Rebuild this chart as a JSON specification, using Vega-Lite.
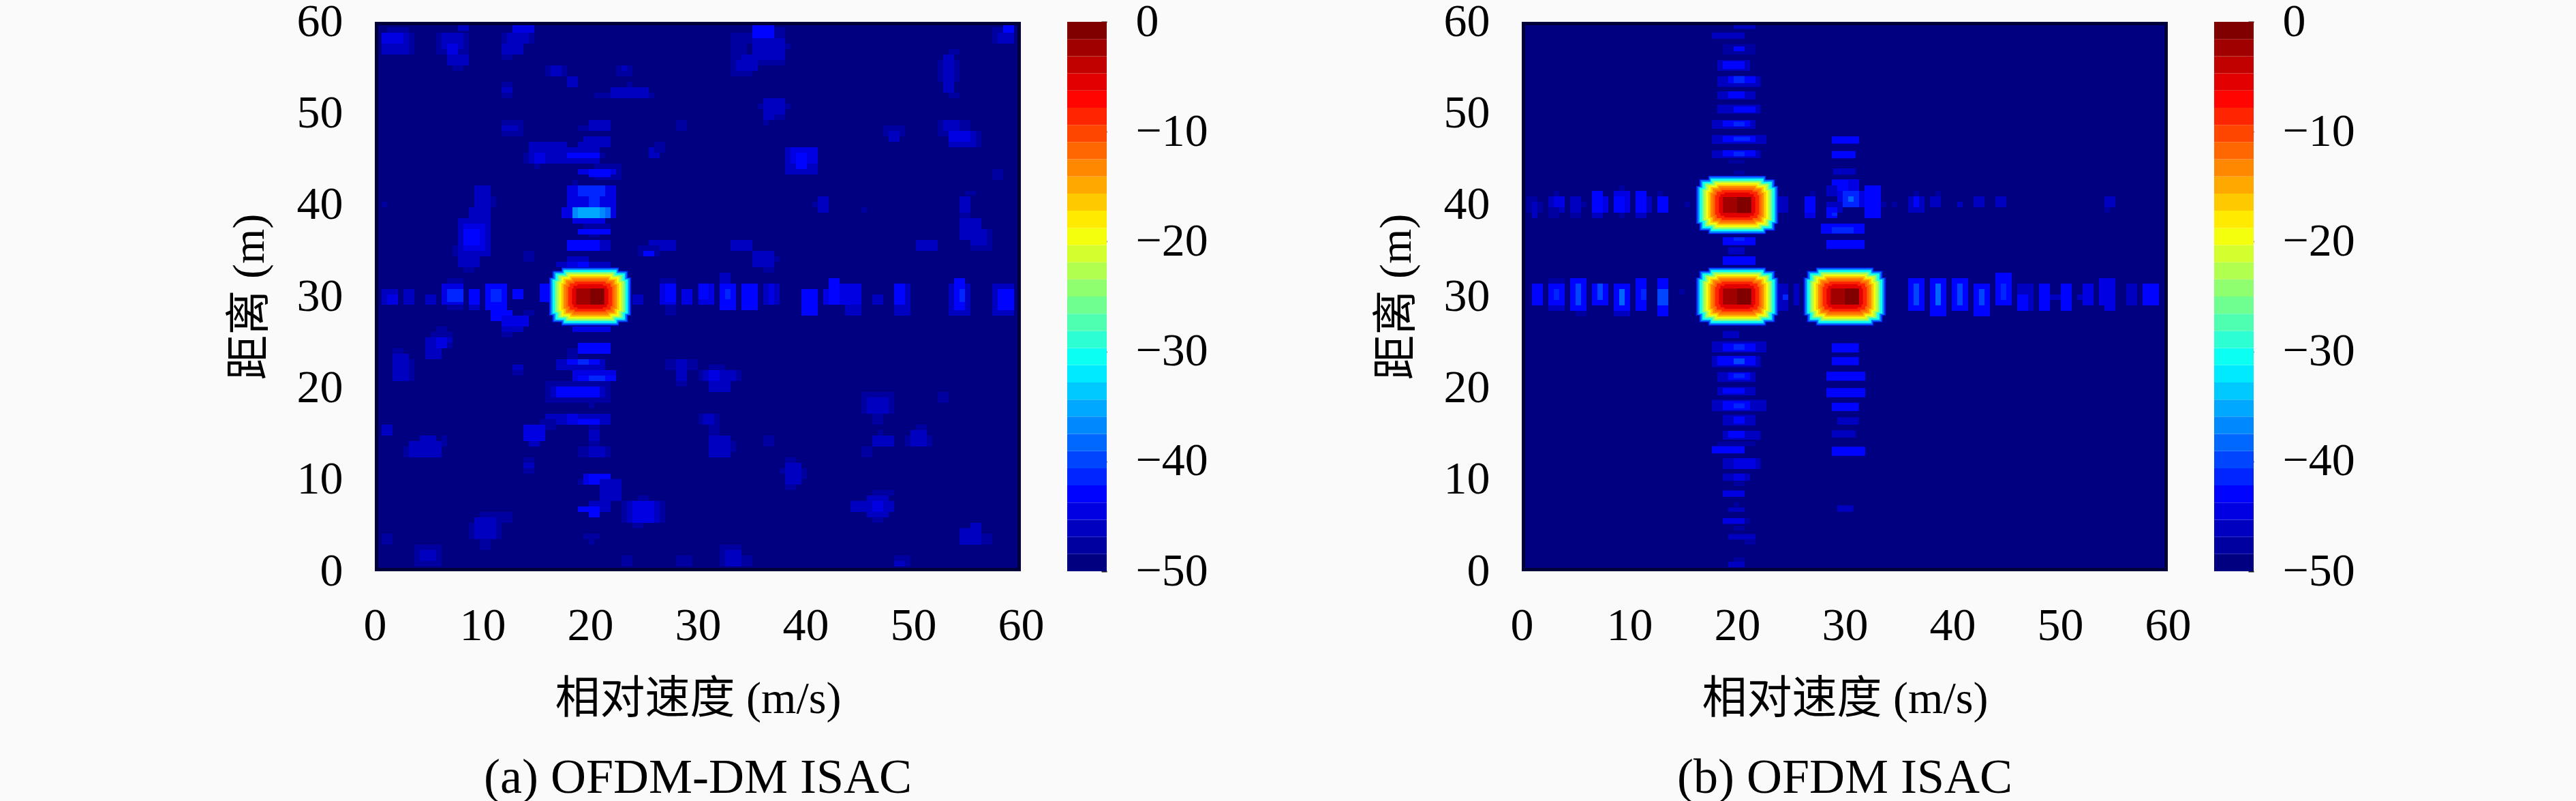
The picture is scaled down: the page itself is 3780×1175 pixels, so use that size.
{
"$schema":"https://vega.github.io/schema/vega-lite/v6.json",
"background":"#fafafa",
"autosize":{"type":"none"},
"padding":{"left":550,"top":32,"right":0,"bottom":0},
"params":[{"name":"width","value":3230},{"name":"height","value":1143}],
"bounds":"flush",
"config":{
"view":{"stroke":null},
"font":"Liberation Serif, Noto Sans CJK SC",
"axis":{"grid":false,"domain":false,"ticks":false,"labelFont":"Liberation Serif","labelFontSize":68,"labelColor":"#000000","titleFont":"Liberation Serif, Noto Sans CJK SC","titleFontSize":66,"titleFontWeight":"normal","titleColor":"#000000","labelOverlap":false,"labelFlush":false},
"title":{"font":"Liberation Serif","fontSize":72,"fontWeight":"normal","color":"#000000"}
},
"vconcat":[{"bounds":"flush","spacing":1683,"hconcat":[
{"bounds":"flush","spacing":68,"hconcat":[
{"width":948,"height":806,
"title":{"text":"(a) OFDM-DM ISAC","orient":"bottom","anchor":"middle","offset":48},
"layer":[
{"data":{"values":[
{"x0":0,"x1":60,"y0":0,"y1":60,"db":-49.2},
{"x0":0.63,"x1":3.67,"y0":56.43,"y1":58.81,"db":-47.7},{"x0":0.63,"x1":3.17,"y0":56.43,"y1":58.81,"db":-46.1},{"x0":0.63,"x1":2.66,"y0":57.62,"y1":58.81,"db":-44.5},{"x0":1.14,"x1":3.17,"y0":58.81,"y1":59.4,"db":-47.7},
{"x0":5.7,"x1":8.74,"y0":56.43,"y1":58.81,"db":-47.7},{"x0":6.2,"x1":8.23,"y0":57.02,"y1":58.81,"db":-46.1},{"x0":6.71,"x1":7.72,"y0":56.43,"y1":57.62,"db":-44.5},{"x0":6.71,"x1":8.74,"y0":55.24,"y1":56.43,"db":-46.1},{"x0":7.22,"x1":8.23,"y0":54.64,"y1":55.24,"db":-47.7},{"x0":7.72,"x1":8.74,"y0":59,"y1":59.7,"db":-46.1},
{"x0":11.77,"x1":14.81,"y0":57.62,"y1":58.81,"db":-47.7},{"x0":12.28,"x1":14.31,"y0":57.62,"y1":58.81,"db":-46.1},{"x0":11.77,"x1":13.8,"y0":56.43,"y1":57.62,"db":-46.1},{"x0":11.77,"x1":12.79,"y0":55.83,"y1":56.43,"db":-47.7},{"x0":12.79,"x1":14.81,"y0":58.81,"y1":59.7,"db":-44.5},
{"x0":15.83,"x1":17.85,"y0":54.05,"y1":55.24,"db":-47.7},{"x0":16.33,"x1":17.34,"y0":54.05,"y1":55.24,"db":-46.1},{"x0":17.85,"x1":18.86,"y0":52.85,"y1":54.05,"db":-46.1},
{"x0":22.41,"x1":23.93,"y0":54.05,"y1":55.24,"db":-47.7},{"x0":22.91,"x1":23.42,"y0":54.64,"y1":55.24,"db":-46.1},
{"x0":11.77,"x1":12.79,"y0":51.66,"y1":53.45,"db":-47.7},{"x0":11.77,"x1":12.79,"y0":52.26,"y1":52.85,"db":-46.1},
{"x0":20.38,"x1":25.95,"y0":51.66,"y1":52.26,"db":-47.7},{"x0":21.9,"x1":25.45,"y0":51.66,"y1":52.85,"db":-46.1},{"x0":23.42,"x1":23.93,"y0":52.85,"y1":53.45,"db":-47.7},
{"x0":11.77,"x1":13.8,"y0":47.49,"y1":49.28,"db":-47.7},{"x0":11.77,"x1":13.29,"y0":48.09,"y1":48.69,"db":-46.1},
{"x0":19.88,"x1":21.9,"y0":48.09,"y1":49.28,"db":-46.1},{"x0":18.86,"x1":19.88,"y0":48.09,"y1":48.69,"db":-47.7},{"x0":19.37,"x1":21.9,"y0":46.3,"y1":47.49,"db":-46.1},{"x0":18.86,"x1":20.89,"y0":45.71,"y1":46.9,"db":-46.1},
{"x0":13.8,"x1":14.81,"y0":44.52,"y1":45.71,"db":-47.7},{"x0":14.31,"x1":17.85,"y0":44.52,"y1":46.9,"db":-46.1},{"x0":14.81,"x1":15.83,"y0":44.52,"y1":45.71,"db":-44.5},{"x0":14.81,"x1":15.32,"y0":43.92,"y1":44.52,"db":-47.7},
{"x0":17.85,"x1":20.89,"y0":44.52,"y1":46.3,"db":-46.1},{"x0":17.85,"x1":20.89,"y0":45.11,"y1":45.71,"db":-43},{"x0":20.89,"x1":21.4,"y0":45.11,"y1":45.71,"db":-47.7},
{"x0":25.45,"x1":26.46,"y0":45.11,"y1":46.3,"db":-46.1},{"x0":25.95,"x1":26.97,"y0":45.71,"y1":46.9,"db":-47.7},{"x0":27.98,"x1":28.99,"y0":48.09,"y1":49.28,"db":-47.7},
{"x0":20.38,"x1":22.91,"y0":42.73,"y1":44.52,"db":-47.7},{"x0":18.86,"x1":22.41,"y0":43.33,"y1":43.92,"db":-44.5},{"x0":19.88,"x1":21.9,"y0":43.04,"y1":43.92,"db":-43},
{"x0":17.85,"x1":22.41,"y0":38.56,"y1":42.14,"db":-44.5},{"x0":18.36,"x1":18.86,"y0":42.14,"y1":42.73,"db":-47.7},{"x0":18.86,"x1":21.4,"y0":40.94,"y1":42.14,"db":-41.4},{"x0":19.88,"x1":20.89,"y0":39.75,"y1":40.94,"db":-41.4},{"x0":17.34,"x1":18.36,"y0":38.56,"y1":39.75,"db":-44.5},{"x0":18.36,"x1":21.9,"y0":38.56,"y1":39.75,"db":-38.3},{"x0":18.36,"x1":21.4,"y0":38.56,"y1":39.75,"db":-36.7},{"x0":18.86,"x1":20.89,"y0":38.56,"y1":39.75,"db":-35.2},{"x0":18.36,"x1":21.4,"y0":37.97,"y1":38.56,"db":-44.5},
{"x0":19.37,"x1":21.9,"y0":37.37,"y1":37.97,"db":-47.7},{"x0":18.86,"x1":21.9,"y0":36.78,"y1":37.37,"db":-43},{"x0":19.88,"x1":20.89,"y0":36.48,"y1":36.78,"db":-47.7},
{"x0":17.85,"x1":21.9,"y0":34.99,"y1":36.18,"db":-43},{"x0":20.89,"x1":21.9,"y0":34.99,"y1":36.18,"db":-46.1},
{"x0":17.85,"x1":19.88,"y0":33.8,"y1":34.39,"db":-46.1},{"x0":16.84,"x1":21.9,"y0":33.2,"y1":33.8,"db":-46.1},{"x0":17.85,"x1":19.88,"y0":33.2,"y1":33.8,"db":-44.5},{"x0":18.86,"x1":19.88,"y0":33.2,"y1":33.8,"db":-43},
{"x0":9.24,"x1":10.76,"y0":40.94,"y1":42.14,"db":-46.1},{"x0":9.24,"x1":11.27,"y0":39.75,"y1":40.94,"db":-46.1},{"x0":10.76,"x1":11.27,"y0":39.75,"y1":40.94,"db":-47.7},{"x0":8.74,"x1":10.76,"y0":38.56,"y1":39.75,"db":-46.1},
{"x0":7.22,"x1":7.72,"y0":34.39,"y1":35.58,"db":-47.7},{"x0":7.72,"x1":10.76,"y0":34.39,"y1":38.56,"db":-46.1},{"x0":8.23,"x1":10.25,"y0":34.99,"y1":37.97,"db":-44.5},{"x0":8.23,"x1":9.75,"y0":35.58,"y1":37.37,"db":-43},{"x0":7.72,"x1":9.75,"y0":33.2,"y1":34.39,"db":-46.1},{"x0":8.23,"x1":9.24,"y0":32.61,"y1":33.2,"db":-47.7},
{"x0":0.63,"x1":1.14,"y0":39.75,"y1":40.35,"db":-47.7},{"x0":13.8,"x1":14.81,"y0":33.8,"y1":34.99,"db":-47.7},
{"x0":25.45,"x1":27.98,"y0":34.99,"y1":36.18,"db":-46.1},{"x0":24.43,"x1":26.46,"y0":34.39,"y1":35.58,"db":-47.7},{"x0":24.94,"x1":25.95,"y0":34.39,"y1":34.99,"db":-43},
{"x0":0.63,"x1":2.15,"y0":29.11,"y1":30.82,"db":-46.1},{"x0":1.14,"x1":2.15,"y0":29.11,"y1":30.23,"db":-44.5},{"x0":2.66,"x1":3.67,"y0":29.11,"y1":30.82,"db":-46.1},{"x0":4.68,"x1":5.7,"y0":29.11,"y1":30.23,"db":-46.1},
{"x0":6.71,"x1":8.23,"y0":28.51,"y1":32.01,"db":-47.7},{"x0":6.2,"x1":8.23,"y0":29.11,"y1":31.42,"db":-44.5},{"x0":6.71,"x1":8.23,"y0":29.4,"y1":30.82,"db":-41.4},
{"x0":8.74,"x1":9.75,"y0":28.51,"y1":29.11,"db":-46.1},{"x0":8.74,"x1":9.75,"y0":29.11,"y1":30.82,"db":-43},
{"x0":10.25,"x1":12.28,"y0":28.51,"y1":31.42,"db":-43},{"x0":10.76,"x1":11.77,"y0":29.4,"y1":30.82,"db":-41.4},{"x0":10.76,"x1":12.79,"y0":27.32,"y1":28.51,"db":-43},{"x0":11.77,"x1":14.31,"y0":26.73,"y1":27.92,"db":-44.5},{"x0":11.77,"x1":13.8,"y0":26.13,"y1":26.73,"db":-46.1},{"x0":11.77,"x1":12.79,"y0":25.54,"y1":26.13,"db":-47.7},{"x0":13.8,"x1":14.81,"y0":27.92,"y1":28.51,"db":-47.7},{"x0":12.79,"x1":13.8,"y0":29.7,"y1":30.82,"db":-43},
{"x0":15.32,"x1":16.33,"y0":29.4,"y1":31.42,"db":-43},{"x0":23.93,"x1":24.94,"y0":29.11,"y1":30.23,"db":-46.1},
{"x0":18.36,"x1":21.9,"y0":26.13,"y1":26.73,"db":-44.5},{"x0":18.86,"x1":21.9,"y0":23.75,"y1":24.94,"db":-43},{"x0":17.85,"x1":18.86,"y0":23.16,"y1":24.35,"db":-47.7},
{"x0":16.84,"x1":21.4,"y0":21.96,"y1":23.16,"db":-46.1},{"x0":17.85,"x1":20.89,"y0":22.56,"y1":23.16,"db":-43},{"x0":18.86,"x1":19.88,"y0":22.56,"y1":23.16,"db":-41.4},
{"x0":18.36,"x1":22.41,"y0":20.77,"y1":21.96,"db":-44.5},{"x0":18.86,"x1":22.41,"y0":20.77,"y1":21.37,"db":-43},{"x0":19.88,"x1":21.4,"y0":20.77,"y1":21.37,"db":-41.4},
{"x0":15.83,"x1":21.9,"y0":18.39,"y1":20.77,"db":-47.7},{"x0":16.33,"x1":21.4,"y0":18.99,"y1":20.18,"db":-46.1},{"x0":16.84,"x1":20.89,"y0":18.99,"y1":20.18,"db":-43},{"x0":19.88,"x1":20.38,"y0":17.8,"y1":18.39,"db":-47.7},
{"x0":15.83,"x1":21.9,"y0":16.01,"y1":17.2,"db":-46.1},{"x0":17.85,"x1":18.86,"y0":16.01,"y1":17.2,"db":-44.5},{"x0":18.86,"x1":20.89,"y0":16.01,"y1":16.61,"db":-43},{"x0":15.32,"x1":16.84,"y0":15.42,"y1":16.61,"db":-47.7},{"x0":13.8,"x1":15.83,"y0":15.42,"y1":16.01,"db":-44.5},{"x0":13.8,"x1":15.83,"y0":14.22,"y1":15.42,"db":-44.5},{"x0":14.31,"x1":15.32,"y0":13.63,"y1":14.22,"db":-46.1},
{"x0":19.88,"x1":20.89,"y0":13.63,"y1":16.01,"db":-47.7},{"x0":19.88,"x1":20.89,"y0":14.22,"y1":15.42,"db":-46.1},
{"x0":18.86,"x1":21.9,"y0":12.44,"y1":13.63,"db":-47.7},{"x0":19.88,"x1":21.4,"y0":12.44,"y1":13.63,"db":-46.1},
{"x0":18.86,"x1":20.89,"y0":9.46,"y1":10.06,"db":-47.7},{"x0":19.37,"x1":21.9,"y0":9.46,"y1":10.65,"db":-44.5},{"x0":19.88,"x1":21.9,"y0":9.46,"y1":10.65,"db":-43},
{"x0":20.89,"x1":22.91,"y0":7.68,"y1":10.06,"db":-46.1},{"x0":19.88,"x1":21.9,"y0":6.48,"y1":7.68,"db":-46.1},{"x0":18.86,"x1":20.89,"y0":6.48,"y1":7.08,"db":-43},{"x0":19.88,"x1":20.89,"y0":5.89,"y1":7.08,"db":-43},
{"x0":22.91,"x1":26.97,"y0":5.29,"y1":7.68,"db":-47.7},{"x0":23.42,"x1":26.46,"y0":5.29,"y1":7.68,"db":-46.1},{"x0":23.93,"x1":25.95,"y0":5.29,"y1":7.68,"db":-44.5},{"x0":23.93,"x1":24.94,"y0":4.7,"y1":5.29,"db":-47.7},{"x0":24.43,"x1":25.45,"y0":7.68,"y1":8.27,"db":-47.7},
{"x0":19.37,"x1":20.89,"y0":3.51,"y1":4.1,"db":-47.7},{"x0":19.88,"x1":20.38,"y0":2.91,"y1":3.51,"db":-47.7},{"x0":22.91,"x1":23.93,"y0":0.53,"y1":1.72,"db":-47.7},{"x0":27.98,"x1":29.5,"y0":0.53,"y1":1.72,"db":-47.7},
{"x0":26.97,"x1":30,"y0":21.96,"y1":23.16,"db":-47.7},{"x0":27.98,"x1":28.99,"y0":20.77,"y1":23.16,"db":-46.1},{"x0":27.98,"x1":28.99,"y0":20.18,"y1":20.77,"db":-47.7},
{"x0":26.46,"x1":27.98,"y0":29.11,"y1":32.01,"db":-47.7},{"x0":26.46,"x1":27.98,"y0":29.11,"y1":31.42,"db":-44.5},{"x0":26.97,"x1":27.98,"y0":29.4,"y1":31.42,"db":-43},{"x0":26.97,"x1":27.98,"y0":27.92,"y1":29.11,"db":-47.7},{"x0":28.49,"x1":29.5,"y0":29.11,"y1":30.82,"db":-44.5},
{"x0":5.19,"x1":7.22,"y0":24.35,"y1":26.13,"db":-47.7},{"x0":5.19,"x1":7.22,"y0":24.94,"y1":25.54,"db":-46.1},{"x0":4.68,"x1":6.2,"y0":23.16,"y1":25.54,"db":-46.1},{"x0":5.7,"x1":6.71,"y0":24.35,"y1":25.54,"db":-44.5},{"x0":5.7,"x1":6.71,"y0":26.13,"y1":26.73,"db":-47.7},
{"x0":1.65,"x1":3.67,"y0":20.77,"y1":23.16,"db":-47.7},{"x0":1.65,"x1":3.17,"y0":20.77,"y1":23.75,"db":-46.1},{"x0":1.65,"x1":2.66,"y0":23.75,"y1":24.35,"db":-47.7},
{"x0":12.79,"x1":13.8,"y0":21.37,"y1":22.56,"db":-47.7},{"x0":12.79,"x1":13.8,"y0":21.96,"y1":22.56,"db":-46.1},
{"x0":0.63,"x1":1.65,"y0":14.82,"y1":16.01,"db":-46.1},
{"x0":2.66,"x1":3.17,"y0":12.44,"y1":13.63,"db":-47.7},{"x0":3.17,"x1":6.2,"y0":12.44,"y1":14.22,"db":-46.1},{"x0":4.18,"x1":5.7,"y0":14.22,"y1":14.82,"db":-46.1},{"x0":6.2,"x1":6.71,"y0":13.63,"y1":14.82,"db":-47.7},
{"x0":13.8,"x1":14.81,"y0":10.65,"y1":12.44,"db":-47.7},{"x0":13.8,"x1":14.81,"y0":11.25,"y1":11.84,"db":-46.1},
{"x0":9.75,"x1":12.79,"y0":5.29,"y1":6.48,"db":-47.7},{"x0":8.74,"x1":11.77,"y0":3.51,"y1":5.29,"db":-47.7},{"x0":9.24,"x1":11.27,"y0":3.51,"y1":5.89,"db":-46.1},{"x0":9.75,"x1":10.76,"y0":2.32,"y1":3.51,"db":-47.7},
{"x0":0.63,"x1":1.65,"y0":2.91,"y1":4.1,"db":-47.7},{"x0":3.67,"x1":6.2,"y0":0.53,"y1":2.91,"db":-47.7},{"x0":4.18,"x1":5.7,"y0":1.13,"y1":2.32,"db":-46.1},
{"x0":33.04,"x1":34.55,"y0":55.83,"y1":58.81,"db":-47.7},{"x0":35.06,"x1":37.09,"y0":57.62,"y1":59.7,"db":-43},{"x0":34.05,"x1":35.06,"y0":57.62,"y1":58.81,"db":-47.7},{"x0":37.09,"x1":38.1,"y0":58.21,"y1":59.4,"db":-47.7},
{"x0":35.06,"x1":38.1,"y0":55.83,"y1":58.21,"db":-46.1},{"x0":38.1,"x1":38.61,"y0":57.02,"y1":57.62,"db":-47.7},{"x0":33.04,"x1":35.06,"y0":54.05,"y1":56.43,"db":-47.7},{"x0":33.54,"x1":35.57,"y0":54.64,"y1":55.83,"db":-46.1},{"x0":34.05,"x1":35.06,"y0":55.83,"y1":56.43,"db":-46.1},{"x0":35.57,"x1":38.1,"y0":55.24,"y1":55.83,"db":-47.7},
{"x0":57.34,"x1":59.37,"y0":57.62,"y1":59.4,"db":-47.7},{"x0":57.85,"x1":59.37,"y0":57.62,"y1":58.81,"db":-46.1},{"x0":58.36,"x1":59.37,"y0":58.81,"y1":59.7,"db":-43},
{"x0":52.28,"x1":54.3,"y0":53.45,"y1":55.83,"db":-47.7},{"x0":52.78,"x1":53.8,"y0":52.26,"y1":56.43,"db":-46.1},{"x0":53.29,"x1":54.3,"y0":51.66,"y1":52.26,"db":-47.7},{"x0":53.29,"x1":54.3,"y0":56.43,"y1":57.02,"db":-47.7},
{"x0":35.57,"x1":38.61,"y0":50.47,"y1":51.07,"db":-47.7},{"x0":36.07,"x1":38.1,"y0":49.28,"y1":51.66,"db":-46.1},{"x0":36.07,"x1":36.58,"y0":48.69,"y1":49.28,"db":-47.7},{"x0":37.09,"x1":38.1,"y0":49.28,"y1":49.88,"db":-47.7},
{"x0":52.28,"x1":55.32,"y0":47.49,"y1":49.28,"db":-47.7},{"x0":52.78,"x1":54.3,"y0":48.09,"y1":49.28,"db":-46.1},{"x0":53.29,"x1":56.33,"y0":46.3,"y1":48.09,"db":-47.7},{"x0":53.29,"x1":55.82,"y0":46.3,"y1":48.09,"db":-46.1},{"x0":53.29,"x1":55.32,"y0":46.9,"y1":48.09,"db":-44.5},
{"x0":47.21,"x1":49.24,"y0":47.49,"y1":48.69,"db":-47.7},{"x0":47.72,"x1":48.73,"y0":46.9,"y1":48.09,"db":-46.1},
{"x0":38.1,"x1":41.14,"y0":43.33,"y1":46.3,"db":-46.1},{"x0":38.61,"x1":41.14,"y0":44.52,"y1":46.3,"db":-44.5},{"x0":39.11,"x1":40.12,"y0":43.92,"y1":45.71,"db":-43},
{"x0":57.34,"x1":58.36,"y0":42.73,"y1":43.92,"db":-47.7},{"x0":41.14,"x1":42.15,"y0":39.16,"y1":40.94,"db":-46.1},{"x0":40.63,"x1":41.14,"y0":39.75,"y1":40.35,"db":-47.7},{"x0":45.19,"x1":45.69,"y0":39.16,"y1":39.75,"db":-47.7},
{"x0":54.81,"x1":55.82,"y0":41.05,"y1":41.54,"db":-47.7},{"x0":54.3,"x1":55.32,"y0":39.16,"y1":40.94,"db":-46.1},{"x0":54.3,"x1":55.32,"y0":38.56,"y1":39.16,"db":-47.7},
{"x0":55.32,"x1":57.34,"y0":34.99,"y1":37.37,"db":-47.7},{"x0":54.3,"x1":56.33,"y0":36.18,"y1":38.56,"db":-46.1},{"x0":55.32,"x1":56.84,"y0":35.58,"y1":37.37,"db":-46.1},
{"x0":50.25,"x1":52.28,"y0":34.99,"y1":36.18,"db":-46.1},{"x0":33.04,"x1":35.06,"y0":34.99,"y1":36.18,"db":-46.1},
{"x0":35.06,"x1":37.09,"y0":33.2,"y1":34.99,"db":-46.1},{"x0":36.07,"x1":37.09,"y0":32.61,"y1":33.2,"db":-47.7},{"x0":37.09,"x1":37.59,"y0":33.8,"y1":34.39,"db":-47.7},
{"x0":30.06,"x1":31.52,"y0":29.11,"y1":31.42,"db":-44.5},{"x0":30.06,"x1":31,"y0":29.7,"y1":31.42,"db":-43},{"x0":32.02,"x1":33.54,"y0":28.51,"y1":31.42,"db":-43},{"x0":32.02,"x1":33.04,"y0":31.42,"y1":32.61,"db":-46.1},{"x0":32.53,"x1":33.04,"y0":29.7,"y1":30.82,"db":-41.4},
{"x0":34.05,"x1":35.57,"y0":28.51,"y1":31.42,"db":-43},{"x0":36.07,"x1":37.59,"y0":29.11,"y1":31.42,"db":-46.1},{"x0":36.58,"x1":37.09,"y0":29.11,"y1":31.42,"db":-44.5},
{"x0":39.62,"x1":41.14,"y0":27.92,"y1":30.82,"db":-43},{"x0":41.64,"x1":45.19,"y0":29.11,"y1":30.82,"db":-44.5},{"x0":42.15,"x1":43.16,"y0":29.11,"y1":32.01,"db":-43},{"x0":43.16,"x1":45.19,"y0":29.11,"y1":31.42,"db":-44.5},{"x0":43.67,"x1":45.19,"y0":27.92,"y1":29.11,"db":-46.1},
{"x0":46.2,"x1":47.21,"y0":29.11,"y1":30.23,"db":-46.1},{"x0":48.23,"x1":49.75,"y0":27.92,"y1":31.42,"db":-46.1},{"x0":48.23,"x1":49.24,"y0":29.11,"y1":31.42,"db":-43},
{"x0":53.29,"x1":55.32,"y0":27.92,"y1":31.42,"db":-46.1},{"x0":53.8,"x1":54.81,"y0":28.51,"y1":32.01,"db":-43},{"x0":54.3,"x1":54.81,"y0":29.4,"y1":30.82,"db":-41.4},
{"x0":57.34,"x1":59.37,"y0":27.92,"y1":31.42,"db":-46.1},{"x0":57.85,"x1":59.37,"y0":28.51,"y1":30.82,"db":-43},
{"x0":30.06,"x1":34.05,"y0":20.77,"y1":21.96,"db":-47.7},{"x0":30.5,"x1":33.54,"y0":20.77,"y1":21.96,"db":-46.1},{"x0":31,"x1":32.02,"y0":20.77,"y1":21.96,"db":-44.5},{"x0":31,"x1":32.53,"y0":21.96,"y1":22.56,"db":-47.7},{"x0":31,"x1":33.04,"y0":19.58,"y1":20.77,"db":-46.1},
{"x0":30.06,"x1":32.02,"y0":16.01,"y1":17.2,"db":-47.7},{"x0":30.5,"x1":31.52,"y0":16.01,"y1":17.2,"db":-46.1},{"x0":31,"x1":32.02,"y0":14.82,"y1":16.01,"db":-47.7},{"x0":31,"x1":33.04,"y0":12.44,"y1":14.82,"db":-46.1},{"x0":33.04,"x1":33.54,"y0":13.03,"y1":14.22,"db":-47.7},
{"x0":36.07,"x1":37.09,"y0":13.63,"y1":14.82,"db":-47.7},{"x0":38.1,"x1":39.11,"y0":11.84,"y1":12.44,"db":-47.7},{"x0":38.1,"x1":39.62,"y0":9.46,"y1":11.84,"db":-46.1},{"x0":37.59,"x1":38.1,"y0":10.65,"y1":11.25,"db":-47.7},{"x0":39.62,"x1":40.12,"y0":10.06,"y1":11.25,"db":-47.7},{"x0":38.1,"x1":39.11,"y0":8.87,"y1":9.46,"db":-47.7},
{"x0":45.19,"x1":48.23,"y0":17.2,"y1":19.58,"db":-47.7},{"x0":45.69,"x1":47.72,"y0":17.2,"y1":18.99,"db":-46.1},{"x0":46.2,"x1":47.21,"y0":16.01,"y1":17.2,"db":-47.7},{"x0":52.28,"x1":53.29,"y0":18.39,"y1":19.58,"db":-47.7},
{"x0":46.71,"x1":47.21,"y0":14.82,"y1":15.42,"db":-47.7},{"x0":46.2,"x1":48.23,"y0":13.63,"y1":14.82,"db":-46.1},{"x0":45.19,"x1":46.2,"y0":12.44,"y1":13.63,"db":-47.7},
{"x0":49.24,"x1":51.77,"y0":13.63,"y1":14.82,"db":-47.7},{"x0":49.75,"x1":51.27,"y0":13.63,"y1":15.42,"db":-46.1},{"x0":50.25,"x1":51.27,"y0":15.42,"y1":16.01,"db":-47.7},
{"x0":44.18,"x1":48.23,"y0":6.48,"y1":7.68,"db":-46.1},{"x0":45.69,"x1":47.72,"y0":5.89,"y1":8.27,"db":-46.1},{"x0":46.2,"x1":47.21,"y0":6.48,"y1":7.68,"db":-44.5},{"x0":46.2,"x1":48.23,"y0":8.27,"y1":8.87,"db":-47.7},{"x0":46.2,"x1":47.21,"y0":5.29,"y1":5.89,"db":-47.7},
{"x0":55.32,"x1":56.33,"y0":2.91,"y1":5.29,"db":-46.1},{"x0":54.3,"x1":56.33,"y0":2.91,"y1":4.7,"db":-46.1},{"x0":56.33,"x1":57.34,"y0":2.91,"y1":4.1,"db":-47.7},
{"x0":32.02,"x1":34.05,"y0":0.53,"y1":2.91,"db":-47.7},{"x0":32.53,"x1":34.05,"y0":0.53,"y1":2.32,"db":-46.1},{"x0":34.05,"x1":35.06,"y0":0.53,"y1":1.72,"db":-47.7},{"x0":48.23,"x1":49.75,"y0":0.53,"y1":1.72,"db":-47.7},{"x0":48.23,"x1":49.24,"y0":0.53,"y1":1.13,"db":-46.1},
{"x0":16.2,"x1":23.8,"y0":27.94,"y1":32.06,"db":-41.5},{"x0":16.5,"x1":23.5,"y0":27.21,"y1":32.79,"db":-41.5},{"x0":17.34,"x1":22.66,"y0":26.83,"y1":33.17,"db":-41.5},
{"x0":16.33,"x1":23.67,"y0":28.01,"y1":31.99,"db":-36},{"x0":16.62,"x1":23.38,"y0":27.31,"y1":32.69,"db":-36},{"x0":17.43,"x1":22.57,"y0":26.94,"y1":33.06,"db":-36},
{"x0":16.5,"x1":23.5,"y0":28.13,"y1":31.87,"db":-31},{"x0":16.78,"x1":23.22,"y0":27.47,"y1":32.53,"db":-31},{"x0":17.55,"x1":22.45,"y0":27.12,"y1":32.88,"db":-31},
{"x0":16.73,"x1":23.27,"y0":28.26,"y1":31.74,"db":-26},{"x0":16.99,"x1":23.01,"y0":27.64,"y1":32.36,"db":-26},{"x0":17.71,"x1":22.29,"y0":27.32,"y1":32.68,"db":-26},
{"x0":16.9,"x1":23.1,"y0":28.34,"y1":31.66,"db":-23},{"x0":17.15,"x1":22.85,"y0":27.76,"y1":32.24,"db":-23},{"x0":17.83,"x1":22.17,"y0":27.45,"y1":32.55,"db":-23},
{"x0":17.11,"x1":22.89,"y0":28.43,"y1":31.57,"db":-20},{"x0":17.34,"x1":22.66,"y0":27.88,"y1":32.12,"db":-20},{"x0":17.98,"x1":22.02,"y0":27.59,"y1":32.41,"db":-20},
{"x0":17.32,"x1":22.68,"y0":28.55,"y1":31.45,"db":-17},{"x0":17.53,"x1":22.47,"y0":28.04,"y1":31.96,"db":-17},{"x0":18.12,"x1":21.88,"y0":27.77,"y1":32.23,"db":-17},
{"x0":17.53,"x1":22.47,"y0":28.66,"y1":31.34,"db":-14},{"x0":17.73,"x1":22.27,"y0":28.19,"y1":31.81,"db":-14},{"x0":18.27,"x1":21.73,"y0":27.94,"y1":32.06,"db":-14},
{"x0":17.74,"x1":22.26,"y0":28.79,"y1":31.21,"db":-11},{"x0":17.92,"x1":22.08,"y0":28.36,"y1":31.64,"db":-11},{"x0":18.42,"x1":21.58,"y0":28.14,"y1":31.86,"db":-11},
{"x0":17.95,"x1":22.05,"y0":28.93,"y1":31.07,"db":-8},{"x0":18.11,"x1":21.89,"y0":28.56,"y1":31.44,"db":-8},{"x0":18.56,"x1":21.44,"y0":28.36,"y1":31.64,"db":-8},
{"x0":18.31,"x1":21.69,"y0":29.12,"y1":30.88,"db":-5},{"x0":18.45,"x1":21.55,"y0":28.82,"y1":31.18,"db":-5},{"x0":18.82,"x1":21.18,"y0":28.64,"y1":31.36,"db":-5},
{"x0":18.69,"x1":21.31,"y0":29.13,"y1":30.87,"db":-3},{"x0":20,"x1":21.31,"y0":29.13,"y1":30.87,"db":-1}
]},
"mark":{"type":"rect","clip":true},
"encoding":{
"x":{"field":"x0","type":"quantitative","scale":{"domain":[0,60],"nice":false},"axis":{"values":[0,10,20,30,40,50,60],"title":"相对速度 (m/s)","labelPadding":46,"titlePadding":41}},
"x2":{"field":"x1"},
"y":{"field":"y0","type":"quantitative","scale":{"domain":[0,60],"nice":false},"axis":{"values":[0,10,20,30,40,50,60],"title":"距离 (m)","labelPadding":47,"titlePadding":35}},
"y2":{"field":"y1"},
"color":{"field":"db","type":"quantitative","legend":null,"scale":{"type":"quantize","domain":[-50,0],"range":["#000080","#0000A0","#0000C1","#0000E2","#0004FF","#0025FF","#0046FF","#0067FF","#0088FF","#00A9FF","#00C9FF","#00EAFF","#0CFFF3","#2DFFD2","#4EFFB1","#6FFF90","#90FF6F","#B1FF4E","#D2FF2D","#F3FF0C","#FFEA00","#FFC900","#FFA900","#FF8800","#FF6700","#FF4600","#FF2500","#FF0400","#E20000","#C10000","#A00000","#800000"]}}
}},
{"data":{"values":[{"x0":0,"x1":60,"y0":60,"y1":60},{"x0":0,"x1":60,"y0":0,"y1":0},{"x0":0,"x1":0,"y0":0,"y1":60},{"x0":60,"x1":60,"y0":0,"y1":60}]},
"mark":{"type":"rule","clip":true,"color":"#00003a","strokeWidth":10},
"encoding":{"x":{"field":"x0","type":"quantitative"},"x2":{"field":"x1"},"y":{"field":"y0","type":"quantitative"},"y2":{"field":"y1"}}}
]},
{"width":58,"height":806,
"data":{"values":[{"lo":-50,"hi":-48.44,"db":-49.2},{"lo":-48.44,"hi":-46.88,"db":-47.7},{"lo":-46.88,"hi":-45.31,"db":-46.1},{"lo":-45.31,"hi":-43.75,"db":-44.5},{"lo":-43.75,"hi":-42.19,"db":-43},{"lo":-42.19,"hi":-40.63,"db":-41.4},{"lo":-40.63,"hi":-39.06,"db":-39.8},{"lo":-39.06,"hi":-37.5,"db":-38.3},{"lo":-37.5,"hi":-35.94,"db":-36.7},{"lo":-35.94,"hi":-34.38,"db":-35.2},{"lo":-34.38,"hi":-32.81,"db":-33.6},{"lo":-32.81,"hi":-31.25,"db":-32},{"lo":-31.25,"hi":-29.69,"db":-30.5},{"lo":-29.69,"hi":-28.13,"db":-28.9},{"lo":-28.13,"hi":-26.56,"db":-27.3},{"lo":-26.56,"hi":-25,"db":-25.8},{"lo":-25,"hi":-23.44,"db":-24.2},{"lo":-23.44,"hi":-21.88,"db":-22.7},{"lo":-21.88,"hi":-20.31,"db":-21.1},{"lo":-20.31,"hi":-18.75,"db":-19.5},{"lo":-18.75,"hi":-17.19,"db":-18},{"lo":-17.19,"hi":-15.63,"db":-16.4},{"lo":-15.63,"hi":-14.06,"db":-14.8},{"lo":-14.06,"hi":-12.5,"db":-13.3},{"lo":-12.5,"hi":-10.94,"db":-11.7},{"lo":-10.94,"hi":-9.38,"db":-10.2},{"lo":-9.38,"hi":-7.81,"db":-8.6},{"lo":-7.81,"hi":-6.25,"db":-7},{"lo":-6.25,"hi":-4.69,"db":-5.5},{"lo":-4.69,"hi":-3.13,"db":-3.9},{"lo":-3.13,"hi":-1.56,"db":-2.3},{"lo":-1.56,"hi":0,"db":-0.8}]},
"mark":{"type":"rect","stroke":null},
"encoding":{
"y":{"field":"lo","type":"quantitative","scale":{"domain":[-50,0],"nice":false},"axis":{"orient":"right","title":null,"values":[-50,-40,-30,-20,-10,0],"ticks":true,"tickSize":-8,"tickColor":"#222222","tickWidth":2,"labelPadding":50}},
"y2":{"field":"hi"},
"color":{"field":"db","type":"quantitative","legend":null,"scale":{"type":"quantize","domain":[-50,0],"range":["#000080","#0000A0","#0000C1","#0000E2","#0004FF","#0025FF","#0046FF","#0067FF","#0088FF","#00A9FF","#00C9FF","#00EAFF","#0CFFF3","#2DFFD2","#4EFFB1","#6FFF90","#90FF6F","#B1FF4E","#D2FF2D","#F3FF0C","#FFEA00","#FFC900","#FFA900","#FF8800","#FF6700","#FF4600","#FF2500","#FF0400","#E20000","#C10000","#A00000","#800000"]}}
}}
]},
{"bounds":"flush","spacing":68,"hconcat":[
{"width":948,"height":806,
"title":{"text":"(b) OFDM ISAC","orient":"bottom","anchor":"middle","offset":48},
"layer":[
{"data":{"values":[
{"x0":0,"x1":60,"y0":0,"y1":60,"db":-49.2},
{"x0":0.44,"x1":1.46,"y0":39.16,"y1":40.94,"db":-47.7},{"x0":0.95,"x1":1.96,"y0":39.16,"y1":40.35,"db":-47.7},{"x0":0.95,"x1":1.46,"y0":38.56,"y1":40.35,"db":-46.1},
{"x0":2.47,"x1":3.99,"y0":39.16,"y1":40.94,"db":-46.1},{"x0":2.98,"x1":3.99,"y0":39.75,"y1":40.94,"db":-44.5},{"x0":2.47,"x1":3.48,"y0":38.56,"y1":39.75,"db":-47.7},{"x0":2.98,"x1":3.48,"y0":40.94,"y1":41.54,"db":-47.7},
{"x0":4.49,"x1":5.51,"y0":39.16,"y1":40.94,"db":-46.1},{"x0":4.49,"x1":5.51,"y0":38.56,"y1":39.16,"db":-47.7},{"x0":5.51,"x1":6.01,"y0":39.75,"y1":40.35,"db":-47.7},
{"x0":6.52,"x1":8.04,"y0":39.16,"y1":40.94,"db":-44.5},{"x0":6.52,"x1":7.53,"y0":39.16,"y1":41.54,"db":-43},{"x0":6.52,"x1":7.53,"y0":38.56,"y1":39.16,"db":-46.1},
{"x0":8.55,"x1":10.06,"y0":39.16,"y1":41.54,"db":-44.5},{"x0":8.55,"x1":9.56,"y0":39.16,"y1":40.94,"db":-43},{"x0":9.05,"x1":9.56,"y0":41.54,"y1":42.13,"db":-47.7},{"x0":9.05,"x1":9.56,"y0":38.56,"y1":39.16,"db":-47.7},
{"x0":10.57,"x1":11.58,"y0":39.16,"y1":41.54,"db":-43},{"x0":11.58,"x1":12.09,"y0":39.16,"y1":40.94,"db":-46.1},{"x0":10.57,"x1":11.58,"y0":38.56,"y1":39.16,"db":-46.1},
{"x0":12.6,"x1":13.61,"y0":39.16,"y1":40.94,"db":-43},{"x0":12.6,"x1":13.1,"y0":40.94,"y1":41.54,"db":-47.7},{"x0":15.13,"x1":15.63,"y0":39.75,"y1":40.35,"db":-47.7},
{"x0":23.74,"x1":24.75,"y0":39.16,"y1":40.94,"db":-46.1},{"x0":26.27,"x1":27.28,"y0":39.16,"y1":40.94,"db":-43},{"x0":26.27,"x1":27.28,"y0":38.56,"y1":39.16,"db":-44.5},{"x0":26.78,"x1":27.28,"y0":40.94,"y1":41.54,"db":-47.7},
{"x0":28.8,"x1":31.33,"y0":41.54,"y1":42.8,"db":-44.5},{"x0":28.8,"x1":30.32,"y0":41.54,"y1":42.73,"db":-43},{"x0":28.29,"x1":29.3,"y0":40.94,"y1":42.13,"db":-46.1},
{"x0":29.3,"x1":31.84,"y0":39.75,"y1":41.54,"db":-44.5},{"x0":29.81,"x1":31.33,"y0":39.75,"y1":41.54,"db":-41.4},{"x0":30.32,"x1":30.82,"y0":40.35,"y1":40.94,"db":-38.3},
{"x0":31.84,"x1":33.35,"y0":38.56,"y1":42.13,"db":-43},{"x0":33.35,"x1":33.86,"y0":39.75,"y1":40.35,"db":-47.7},{"x0":34.37,"x1":34.87,"y0":39.75,"y1":40.35,"db":-47.7},
{"x0":28.29,"x1":29.81,"y0":39.16,"y1":40.35,"db":-46.1},{"x0":28.29,"x1":29.3,"y0":38.56,"y1":39.75,"db":-43},{"x0":28.8,"x1":29.3,"y0":38.8,"y1":39.16,"db":-41.4},
{"x0":35.89,"x1":37.41,"y0":39.16,"y1":40.94,"db":-46.1},{"x0":36.39,"x1":36.9,"y0":39.75,"y1":40.94,"db":-43},{"x0":36.39,"x1":36.9,"y0":40.94,"y1":41.54,"db":-47.7},{"x0":37.91,"x1":38.92,"y0":39.75,"y1":40.94,"db":-46.1},{"x0":38.42,"x1":38.92,"y0":40.94,"y1":41.54,"db":-47.7},
{"x0":40.44,"x1":40.95,"y0":39.75,"y1":40.35,"db":-46.1},{"x0":41.96,"x1":42.98,"y0":39.75,"y1":40.94,"db":-46.1},{"x0":43.99,"x1":45,"y0":39.75,"y1":40.94,"db":-46.1},{"x0":54.12,"x1":55.13,"y0":39.75,"y1":40.94,"db":-46.1},{"x0":54.12,"x1":54.62,"y0":39.16,"y1":39.75,"db":-47.7},
{"x0":0.95,"x1":1.96,"y0":29.04,"y1":31.42,"db":-43},
{"x0":2.47,"x1":3.99,"y0":28.44,"y1":29.04,"db":-46.1},{"x0":2.47,"x1":3.99,"y0":31.42,"y1":32.01,"db":-47.7},{"x0":2.47,"x1":3.99,"y0":29.04,"y1":31.42,"db":-43},{"x0":2.98,"x1":3.48,"y0":29.63,"y1":30.82,"db":-41.4},
{"x0":4.49,"x1":6.01,"y0":28.44,"y1":32.01,"db":-43},{"x0":5,"x1":5.51,"y0":29.04,"y1":31.42,"db":-39.8},{"x0":5,"x1":6.01,"y0":27.85,"y1":28.44,"db":-47.7},
{"x0":6.52,"x1":8.04,"y0":29.04,"y1":31.42,"db":-43},{"x0":7.03,"x1":7.53,"y0":29.63,"y1":31.42,"db":-39.8},
{"x0":8.55,"x1":10.06,"y0":28.44,"y1":31.42,"db":-43},{"x0":8.55,"x1":10.06,"y0":27.85,"y1":28.44,"db":-46.1},{"x0":9.05,"x1":9.56,"y0":29.04,"y1":30.82,"db":-38.3},
{"x0":10.57,"x1":11.58,"y0":28.44,"y1":32.01,"db":-43},{"x0":11.08,"x1":11.58,"y0":29.63,"y1":30.82,"db":-41.4},
{"x0":12.6,"x1":13.61,"y0":27.85,"y1":32.01,"db":-43},{"x0":12.6,"x1":13.61,"y0":29.04,"y1":30.82,"db":-39.8},{"x0":14.62,"x1":15.13,"y0":30.23,"y1":30.82,"db":-47.7},
{"x0":23.74,"x1":24.75,"y0":28.44,"y1":31.42,"db":-46.1},{"x0":24.24,"x1":24.75,"y0":29.63,"y1":30.23,"db":-41.4},{"x0":25.26,"x1":25.76,"y0":29.04,"y1":31.42,"db":-46.1},
{"x0":35.89,"x1":37.41,"y0":28.44,"y1":32.01,"db":-43},{"x0":36.39,"x1":36.9,"y0":29.04,"y1":31.42,"db":-39.8},
{"x0":37.91,"x1":39.43,"y0":27.85,"y1":32.01,"db":-43},{"x0":38.42,"x1":38.92,"y0":29.04,"y1":31.42,"db":-38.3},
{"x0":39.94,"x1":41.46,"y0":28.44,"y1":32.01,"db":-43},{"x0":40.44,"x1":40.95,"y0":29.04,"y1":31.42,"db":-39.8},
{"x0":41.96,"x1":43.48,"y0":27.85,"y1":31.42,"db":-43},{"x0":42.47,"x1":42.98,"y0":29.04,"y1":30.82,"db":-39.8},
{"x0":43.99,"x1":45.51,"y0":29.04,"y1":32.61,"db":-43},{"x0":44.49,"x1":45,"y0":29.63,"y1":31.42,"db":-41.4},
{"x0":46.01,"x1":47.53,"y0":28.44,"y1":31.42,"db":-46.1},{"x0":46.01,"x1":47.03,"y0":28.44,"y1":30.23,"db":-43},
{"x0":48.04,"x1":49.05,"y0":28.44,"y1":31.42,"db":-43},{"x0":49.05,"x1":50.07,"y0":29.63,"y1":30.23,"db":-46.1},{"x0":50.07,"x1":51.08,"y0":28.44,"y1":31.42,"db":-43},
{"x0":51.58,"x1":52.09,"y0":29.63,"y1":30.23,"db":-46.1},{"x0":52.09,"x1":53.1,"y0":29.04,"y1":31.42,"db":-44.5},
{"x0":53.61,"x1":55.13,"y0":29.04,"y1":32.01,"db":-44.5},{"x0":54.12,"x1":55.13,"y0":28.44,"y1":32.01,"db":-44.5},
{"x0":56.14,"x1":57.15,"y0":29.04,"y1":31.42,"db":-46.1},{"x0":57.66,"x1":59.18,"y0":29.04,"y1":31.42,"db":-43},
{"x0":19.68,"x1":21.71,"y0":59.21,"y1":59.72,"db":-46.1},{"x0":17.66,"x1":20.69,"y0":58.16,"y1":58.82,"db":-46.1},{"x0":18.67,"x1":21.71,"y0":56.41,"y1":57.57,"db":-47.7},{"x0":19.68,"x1":20.69,"y0":56.8,"y1":57.3,"db":-43},
{"x0":18.16,"x1":21.2,"y0":54.66,"y1":55.82,"db":-46.1},{"x0":18.67,"x1":20.69,"y0":54.85,"y1":55.7,"db":-43},
{"x0":18.16,"x1":22.17,"y0":52.9,"y1":54.07,"db":-46.1},{"x0":19.18,"x1":21.71,"y0":53.3,"y1":54.07,"db":-43},{"x0":19.68,"x1":20.69,"y0":53.3,"y1":54.07,"db":-41.4},
{"x0":18.16,"x1":21.71,"y0":51.54,"y1":52.4,"db":-46.1},{"x0":19.18,"x1":20.69,"y0":51.66,"y1":52.4,"db":-43},
{"x0":18.16,"x1":22.17,"y0":49.98,"y1":50.96,"db":-46.1},{"x0":19.68,"x1":21.71,"y0":50.1,"y1":50.75,"db":-43},
{"x0":17.66,"x1":21.71,"y0":48.31,"y1":49.28,"db":-46.1},{"x0":18.67,"x1":21.2,"y0":48.55,"y1":49.2,"db":-43},{"x0":19.68,"x1":20.69,"y0":48.6,"y1":49.1,"db":-41.4},
{"x0":17.66,"x1":22.72,"y0":46.67,"y1":47.65,"db":-46.1},{"x0":18.67,"x1":21.71,"y0":46.87,"y1":47.53,"db":-43},{"x0":19.68,"x1":21.2,"y0":47,"y1":47.45,"db":-41.4},
{"x0":17.66,"x1":22.17,"y0":45.12,"y1":45.97,"db":-46.1},{"x0":18.67,"x1":21.71,"y0":45.31,"y1":45.97,"db":-43},{"x0":19.68,"x1":20.69,"y0":45.31,"y1":45.82,"db":-41.4},
{"x0":19.18,"x1":20.69,"y0":44.53,"y1":44.92,"db":-47.7},{"x0":19.68,"x1":20.69,"y0":43.29,"y1":43.75,"db":-47.7},
{"x0":18.67,"x1":21.71,"y0":35.6,"y1":36.47,"db":-43},{"x0":19.68,"x1":20.69,"y0":36.08,"y1":36.47,"db":-41.4},{"x0":19.18,"x1":20.69,"y0":34.6,"y1":35.38,"db":-46.1},{"x0":18.67,"x1":21.71,"y0":33.44,"y1":34.4,"db":-43},
{"x0":18.67,"x1":20.19,"y0":25.46,"y1":26.24,"db":-46.1},
{"x0":17.66,"x1":22.72,"y0":23.9,"y1":25.1,"db":-46.1},{"x0":18.67,"x1":21.71,"y0":24.02,"y1":24.88,"db":-43},{"x0":19.68,"x1":20.69,"y0":24.17,"y1":24.8,"db":-41.4},
{"x0":17.66,"x1":22.17,"y0":22.3,"y1":23.5,"db":-46.1},{"x0":18.16,"x1":21.71,"y0":22.5,"y1":23.5,"db":-43},{"x0":19.68,"x1":20.69,"y0":22.62,"y1":23.24,"db":-39.8},
{"x0":18.16,"x1":21.71,"y0":20.67,"y1":21.76,"db":-46.1},{"x0":19.18,"x1":21.2,"y0":20.9,"y1":21.68,"db":-43},{"x0":19.68,"x1":20.69,"y0":21.1,"y1":21.57,"db":-41.4},
{"x0":18.16,"x1":21.71,"y0":19.2,"y1":20.12,"db":-46.1},{"x0":18.67,"x1":20.69,"y0":19.4,"y1":20,"db":-43},
{"x0":17.66,"x1":22.72,"y0":17.48,"y1":18.72,"db":-46.1},{"x0":18.67,"x1":21.2,"y0":17.6,"y1":18.57,"db":-43},{"x0":19.68,"x1":20.69,"y0":17.79,"y1":18.33,"db":-41.4},
{"x0":18.67,"x1":21.71,"y0":15.92,"y1":17.09,"db":-46.1},{"x0":19.68,"x1":20.69,"y0":16.11,"y1":16.9,"db":-43},
{"x0":18.67,"x1":22.17,"y0":14.36,"y1":15.34,"db":-46.1},{"x0":19.18,"x1":20.69,"y0":14.56,"y1":15.34,"db":-43},
{"x0":18.16,"x1":21.71,"y0":13.66,"y1":14.17,"db":-47.7},{"x0":17.66,"x1":20.69,"y0":12.88,"y1":13.66,"db":-43},
{"x0":18.67,"x1":22.17,"y0":11.17,"y1":12.34,"db":-46.1},{"x0":19.68,"x1":21.71,"y0":11.17,"y1":12.34,"db":-44.5},
{"x0":18.67,"x1":21.2,"y0":9.89,"y1":10.66,"db":-46.1},{"x0":19.68,"x1":20.69,"y0":9.89,"y1":10.66,"db":-44.5},{"x0":19.68,"x1":20.69,"y0":9.3,"y1":9.77,"db":-47.7},
{"x0":18.67,"x1":20.69,"y0":8.13,"y1":8.83,"db":-44.5},{"x0":19.68,"x1":20.19,"y0":7.04,"y1":7.55,"db":-47.7},{"x0":19.18,"x1":20.69,"y0":6.5,"y1":6.97,"db":-46.1},
{"x0":20.69,"x1":21.2,"y0":5.17,"y1":5.8,"db":-47.7},{"x0":18.67,"x1":20.69,"y0":5.17,"y1":5.8,"db":-44.5},{"x0":19.68,"x1":20.69,"y0":4.44,"y1":4.94,"db":-47.7},
{"x0":19.18,"x1":21.71,"y0":3.46,"y1":4.05,"db":-46.1},{"x0":20.69,"x1":21.71,"y0":2.9,"y1":3.46,"db":-47.7},{"x0":19.68,"x1":20.69,"y0":1.05,"y1":1.52,"db":-47.7},{"x0":19.18,"x1":20.69,"y0":0.43,"y1":1.05,"db":-46.1},
{"x0":28.8,"x1":31.33,"y0":46.7,"y1":47.5,"db":-43},{"x0":28.8,"x1":31,"y0":45.1,"y1":45.9,"db":-43},{"x0":28.9,"x1":31,"y0":43.3,"y1":44,"db":-46.1},
{"x0":27.78,"x1":31.84,"y0":36.86,"y1":37.97,"db":-43},{"x0":28.8,"x1":30.82,"y0":36.9,"y1":37.6,"db":-41.4},{"x0":28.29,"x1":31.84,"y0":35.2,"y1":36.18,"db":-43},
{"x0":28.8,"x1":31.3,"y0":23.9,"y1":24.9,"db":-43},{"x0":28.8,"x1":31.3,"y0":22.5,"y1":23.4,"db":-43},{"x0":28.3,"x1":31.9,"y0":20.8,"y1":21.8,"db":-43},{"x0":28.3,"x1":31.9,"y0":19,"y1":20,"db":-43},{"x0":28.8,"x1":31.3,"y0":17.5,"y1":18.4,"db":-43},{"x0":29.3,"x1":31.3,"y0":16,"y1":16.8,"db":-46.1},{"x0":28.8,"x1":31,"y0":14.6,"y1":15.4,"db":-46.1},{"x0":28.8,"x1":31.9,"y0":12.6,"y1":13.6,"db":-43},{"x0":29.3,"x1":30.8,"y0":6.5,"y1":7.2,"db":-46.1},
{"x0":16.2,"x1":23.8,"y0":27.94,"y1":32.06,"db":-41.5},{"x0":16.5,"x1":23.5,"y0":27.21,"y1":32.79,"db":-41.5},{"x0":17.34,"x1":22.66,"y0":26.83,"y1":33.17,"db":-41.5},
{"x0":16.33,"x1":23.67,"y0":28.01,"y1":31.99,"db":-36},{"x0":16.62,"x1":23.38,"y0":27.31,"y1":32.69,"db":-36},{"x0":17.43,"x1":22.57,"y0":26.94,"y1":33.06,"db":-36},
{"x0":16.5,"x1":23.5,"y0":28.13,"y1":31.87,"db":-31},{"x0":16.78,"x1":23.22,"y0":27.47,"y1":32.53,"db":-31},{"x0":17.55,"x1":22.45,"y0":27.12,"y1":32.88,"db":-31},
{"x0":16.73,"x1":23.27,"y0":28.26,"y1":31.74,"db":-26},{"x0":16.99,"x1":23.01,"y0":27.64,"y1":32.36,"db":-26},{"x0":17.71,"x1":22.29,"y0":27.32,"y1":32.68,"db":-26},
{"x0":16.9,"x1":23.1,"y0":28.34,"y1":31.66,"db":-23},{"x0":17.15,"x1":22.85,"y0":27.76,"y1":32.24,"db":-23},{"x0":17.83,"x1":22.17,"y0":27.45,"y1":32.55,"db":-23},
{"x0":17.11,"x1":22.89,"y0":28.43,"y1":31.57,"db":-20},{"x0":17.34,"x1":22.66,"y0":27.88,"y1":32.12,"db":-20},{"x0":17.98,"x1":22.02,"y0":27.59,"y1":32.41,"db":-20},
{"x0":17.32,"x1":22.68,"y0":28.55,"y1":31.45,"db":-17},{"x0":17.53,"x1":22.47,"y0":28.04,"y1":31.96,"db":-17},{"x0":18.12,"x1":21.88,"y0":27.77,"y1":32.23,"db":-17},
{"x0":17.53,"x1":22.47,"y0":28.66,"y1":31.34,"db":-14},{"x0":17.73,"x1":22.27,"y0":28.19,"y1":31.81,"db":-14},{"x0":18.27,"x1":21.73,"y0":27.94,"y1":32.06,"db":-14},
{"x0":17.74,"x1":22.26,"y0":28.79,"y1":31.21,"db":-11},{"x0":17.92,"x1":22.08,"y0":28.36,"y1":31.64,"db":-11},{"x0":18.42,"x1":21.58,"y0":28.14,"y1":31.86,"db":-11},
{"x0":17.95,"x1":22.05,"y0":28.93,"y1":31.07,"db":-8},{"x0":18.11,"x1":21.89,"y0":28.56,"y1":31.44,"db":-8},{"x0":18.56,"x1":21.44,"y0":28.36,"y1":31.64,"db":-8},
{"x0":18.31,"x1":21.69,"y0":29.12,"y1":30.88,"db":-5},{"x0":18.45,"x1":21.55,"y0":28.82,"y1":31.18,"db":-5},{"x0":18.82,"x1":21.18,"y0":28.64,"y1":31.36,"db":-5},
{"x0":18.69,"x1":21.31,"y0":29.13,"y1":30.87,"db":-3},{"x0":20,"x1":21.31,"y0":29.13,"y1":30.87,"db":-1},
{"x0":16.2,"x1":23.8,"y0":37.94,"y1":42.06,"db":-41.5},{"x0":16.5,"x1":23.5,"y0":37.21,"y1":42.79,"db":-41.5},{"x0":17.34,"x1":22.66,"y0":36.83,"y1":43.17,"db":-41.5},
{"x0":16.33,"x1":23.67,"y0":38.01,"y1":41.99,"db":-36},{"x0":16.62,"x1":23.38,"y0":37.31,"y1":42.69,"db":-36},{"x0":17.43,"x1":22.57,"y0":36.94,"y1":43.06,"db":-36},
{"x0":16.5,"x1":23.5,"y0":38.13,"y1":41.87,"db":-31},{"x0":16.78,"x1":23.22,"y0":37.47,"y1":42.53,"db":-31},{"x0":17.55,"x1":22.45,"y0":37.12,"y1":42.88,"db":-31},
{"x0":16.73,"x1":23.27,"y0":38.26,"y1":41.74,"db":-26},{"x0":16.99,"x1":23.01,"y0":37.64,"y1":42.36,"db":-26},{"x0":17.71,"x1":22.29,"y0":37.32,"y1":42.68,"db":-26},
{"x0":16.9,"x1":23.1,"y0":38.34,"y1":41.66,"db":-23},{"x0":17.15,"x1":22.85,"y0":37.76,"y1":42.24,"db":-23},{"x0":17.83,"x1":22.17,"y0":37.45,"y1":42.55,"db":-23},
{"x0":17.11,"x1":22.89,"y0":38.43,"y1":41.57,"db":-20},{"x0":17.34,"x1":22.66,"y0":37.88,"y1":42.12,"db":-20},{"x0":17.98,"x1":22.02,"y0":37.59,"y1":42.41,"db":-20},
{"x0":17.32,"x1":22.68,"y0":38.55,"y1":41.45,"db":-17},{"x0":17.53,"x1":22.47,"y0":38.04,"y1":41.96,"db":-17},{"x0":18.12,"x1":21.88,"y0":37.77,"y1":42.23,"db":-17},
{"x0":17.53,"x1":22.47,"y0":38.66,"y1":41.34,"db":-14},{"x0":17.73,"x1":22.27,"y0":38.19,"y1":41.81,"db":-14},{"x0":18.27,"x1":21.73,"y0":37.94,"y1":42.06,"db":-14},
{"x0":17.74,"x1":22.26,"y0":38.79,"y1":41.21,"db":-11},{"x0":17.92,"x1":22.08,"y0":38.36,"y1":41.64,"db":-11},{"x0":18.42,"x1":21.58,"y0":38.14,"y1":41.86,"db":-11},
{"x0":17.95,"x1":22.05,"y0":38.93,"y1":41.07,"db":-8},{"x0":18.11,"x1":21.89,"y0":38.56,"y1":41.44,"db":-8},{"x0":18.56,"x1":21.44,"y0":38.36,"y1":41.64,"db":-8},
{"x0":18.31,"x1":21.69,"y0":39.12,"y1":40.88,"db":-5},{"x0":18.45,"x1":21.55,"y0":38.82,"y1":41.18,"db":-5},{"x0":18.82,"x1":21.18,"y0":38.64,"y1":41.36,"db":-5},
{"x0":18.69,"x1":21.31,"y0":39.13,"y1":40.87,"db":-3},{"x0":20,"x1":21.31,"y0":39.13,"y1":40.87,"db":-1},
{"x0":26.2,"x1":33.8,"y0":27.94,"y1":32.06,"db":-41.5},{"x0":26.5,"x1":33.5,"y0":27.21,"y1":32.79,"db":-41.5},{"x0":27.34,"x1":32.66,"y0":26.83,"y1":33.17,"db":-41.5},
{"x0":26.33,"x1":33.67,"y0":28.01,"y1":31.99,"db":-36},{"x0":26.62,"x1":33.38,"y0":27.31,"y1":32.69,"db":-36},{"x0":27.43,"x1":32.57,"y0":26.94,"y1":33.06,"db":-36},
{"x0":26.5,"x1":33.5,"y0":28.13,"y1":31.87,"db":-31},{"x0":26.78,"x1":33.22,"y0":27.47,"y1":32.53,"db":-31},{"x0":27.55,"x1":32.45,"y0":27.12,"y1":32.88,"db":-31},
{"x0":26.73,"x1":33.27,"y0":28.26,"y1":31.74,"db":-26},{"x0":26.99,"x1":33.01,"y0":27.64,"y1":32.36,"db":-26},{"x0":27.71,"x1":32.29,"y0":27.32,"y1":32.68,"db":-26},
{"x0":26.9,"x1":33.1,"y0":28.34,"y1":31.66,"db":-23},{"x0":27.15,"x1":32.85,"y0":27.76,"y1":32.24,"db":-23},{"x0":27.83,"x1":32.17,"y0":27.45,"y1":32.55,"db":-23},
{"x0":27.11,"x1":32.89,"y0":28.43,"y1":31.57,"db":-20},{"x0":27.34,"x1":32.66,"y0":27.88,"y1":32.12,"db":-20},{"x0":27.98,"x1":32.02,"y0":27.59,"y1":32.41,"db":-20},
{"x0":27.32,"x1":32.68,"y0":28.55,"y1":31.45,"db":-17},{"x0":27.53,"x1":32.47,"y0":28.04,"y1":31.96,"db":-17},{"x0":28.12,"x1":31.88,"y0":27.77,"y1":32.23,"db":-17},
{"x0":27.53,"x1":32.47,"y0":28.66,"y1":31.34,"db":-14},{"x0":27.73,"x1":32.27,"y0":28.19,"y1":31.81,"db":-14},{"x0":28.27,"x1":31.73,"y0":27.94,"y1":32.06,"db":-14},
{"x0":27.74,"x1":32.26,"y0":28.79,"y1":31.21,"db":-11},{"x0":27.92,"x1":32.08,"y0":28.36,"y1":31.64,"db":-11},{"x0":28.42,"x1":31.58,"y0":28.14,"y1":31.86,"db":-11},
{"x0":27.95,"x1":32.05,"y0":28.93,"y1":31.07,"db":-8},{"x0":28.11,"x1":31.89,"y0":28.56,"y1":31.44,"db":-8},{"x0":28.56,"x1":31.44,"y0":28.36,"y1":31.64,"db":-8},
{"x0":28.31,"x1":31.69,"y0":29.12,"y1":30.88,"db":-5},{"x0":28.45,"x1":31.55,"y0":28.82,"y1":31.18,"db":-5},{"x0":28.82,"x1":31.18,"y0":28.64,"y1":31.36,"db":-5},
{"x0":28.69,"x1":31.31,"y0":29.13,"y1":30.87,"db":-3},{"x0":30,"x1":31.31,"y0":29.13,"y1":30.87,"db":-1}
]},
"mark":{"type":"rect","clip":true},
"encoding":{
"x":{"field":"x0","type":"quantitative","scale":{"domain":[0,60],"nice":false},"axis":{"values":[0,10,20,30,40,50,60],"title":"相对速度 (m/s)","labelPadding":46,"titlePadding":41}},
"x2":{"field":"x1"},
"y":{"field":"y0","type":"quantitative","scale":{"domain":[0,60],"nice":false},"axis":{"values":[0,10,20,30,40,50,60],"title":"距离 (m)","labelPadding":47,"titlePadding":35}},
"y2":{"field":"y1"},
"color":{"field":"db","type":"quantitative","legend":null,"scale":{"type":"quantize","domain":[-50,0],"range":["#000080","#0000A0","#0000C1","#0000E2","#0004FF","#0025FF","#0046FF","#0067FF","#0088FF","#00A9FF","#00C9FF","#00EAFF","#0CFFF3","#2DFFD2","#4EFFB1","#6FFF90","#90FF6F","#B1FF4E","#D2FF2D","#F3FF0C","#FFEA00","#FFC900","#FFA900","#FF8800","#FF6700","#FF4600","#FF2500","#FF0400","#E20000","#C10000","#A00000","#800000"]}}
}},
{"data":{"values":[{"x0":0,"x1":60,"y0":60,"y1":60},{"x0":0,"x1":60,"y0":0,"y1":0},{"x0":0,"x1":0,"y0":0,"y1":60},{"x0":60,"x1":60,"y0":0,"y1":60}]},
"mark":{"type":"rule","clip":true,"color":"#00003a","strokeWidth":10},
"encoding":{"x":{"field":"x0","type":"quantitative"},"x2":{"field":"x1"},"y":{"field":"y0","type":"quantitative"},"y2":{"field":"y1"}}}
]},
{"width":58,"height":806,
"data":{"values":[{"lo":-50,"hi":-48.44,"db":-49.2},{"lo":-48.44,"hi":-46.88,"db":-47.7},{"lo":-46.88,"hi":-45.31,"db":-46.1},{"lo":-45.31,"hi":-43.75,"db":-44.5},{"lo":-43.75,"hi":-42.19,"db":-43},{"lo":-42.19,"hi":-40.63,"db":-41.4},{"lo":-40.63,"hi":-39.06,"db":-39.8},{"lo":-39.06,"hi":-37.5,"db":-38.3},{"lo":-37.5,"hi":-35.94,"db":-36.7},{"lo":-35.94,"hi":-34.38,"db":-35.2},{"lo":-34.38,"hi":-32.81,"db":-33.6},{"lo":-32.81,"hi":-31.25,"db":-32},{"lo":-31.25,"hi":-29.69,"db":-30.5},{"lo":-29.69,"hi":-28.13,"db":-28.9},{"lo":-28.13,"hi":-26.56,"db":-27.3},{"lo":-26.56,"hi":-25,"db":-25.8},{"lo":-25,"hi":-23.44,"db":-24.2},{"lo":-23.44,"hi":-21.88,"db":-22.7},{"lo":-21.88,"hi":-20.31,"db":-21.1},{"lo":-20.31,"hi":-18.75,"db":-19.5},{"lo":-18.75,"hi":-17.19,"db":-18},{"lo":-17.19,"hi":-15.63,"db":-16.4},{"lo":-15.63,"hi":-14.06,"db":-14.8},{"lo":-14.06,"hi":-12.5,"db":-13.3},{"lo":-12.5,"hi":-10.94,"db":-11.7},{"lo":-10.94,"hi":-9.38,"db":-10.2},{"lo":-9.38,"hi":-7.81,"db":-8.6},{"lo":-7.81,"hi":-6.25,"db":-7},{"lo":-6.25,"hi":-4.69,"db":-5.5},{"lo":-4.69,"hi":-3.13,"db":-3.9},{"lo":-3.13,"hi":-1.56,"db":-2.3},{"lo":-1.56,"hi":0,"db":-0.8}]},
"mark":{"type":"rect","stroke":null},
"encoding":{
"y":{"field":"lo","type":"quantitative","scale":{"domain":[-50,0],"nice":false},"axis":{"orient":"right","title":null,"values":[-50,-40,-30,-20,-10,0],"ticks":true,"tickSize":-8,"tickColor":"#222222","tickWidth":2,"labelPadding":50}},
"y2":{"field":"hi"},
"color":{"field":"db","type":"quantitative","legend":null,"scale":{"type":"quantize","domain":[-50,0],"range":["#000080","#0000A0","#0000C1","#0000E2","#0004FF","#0025FF","#0046FF","#0067FF","#0088FF","#00A9FF","#00C9FF","#00EAFF","#0CFFF3","#2DFFD2","#4EFFB1","#6FFF90","#90FF6F","#B1FF4E","#D2FF2D","#F3FF0C","#FFEA00","#FFC900","#FFA900","#FF8800","#FF6700","#FF4600","#FF2500","#FF0400","#E20000","#C10000","#A00000","#800000"]}}
}}
]}
]}]
}
